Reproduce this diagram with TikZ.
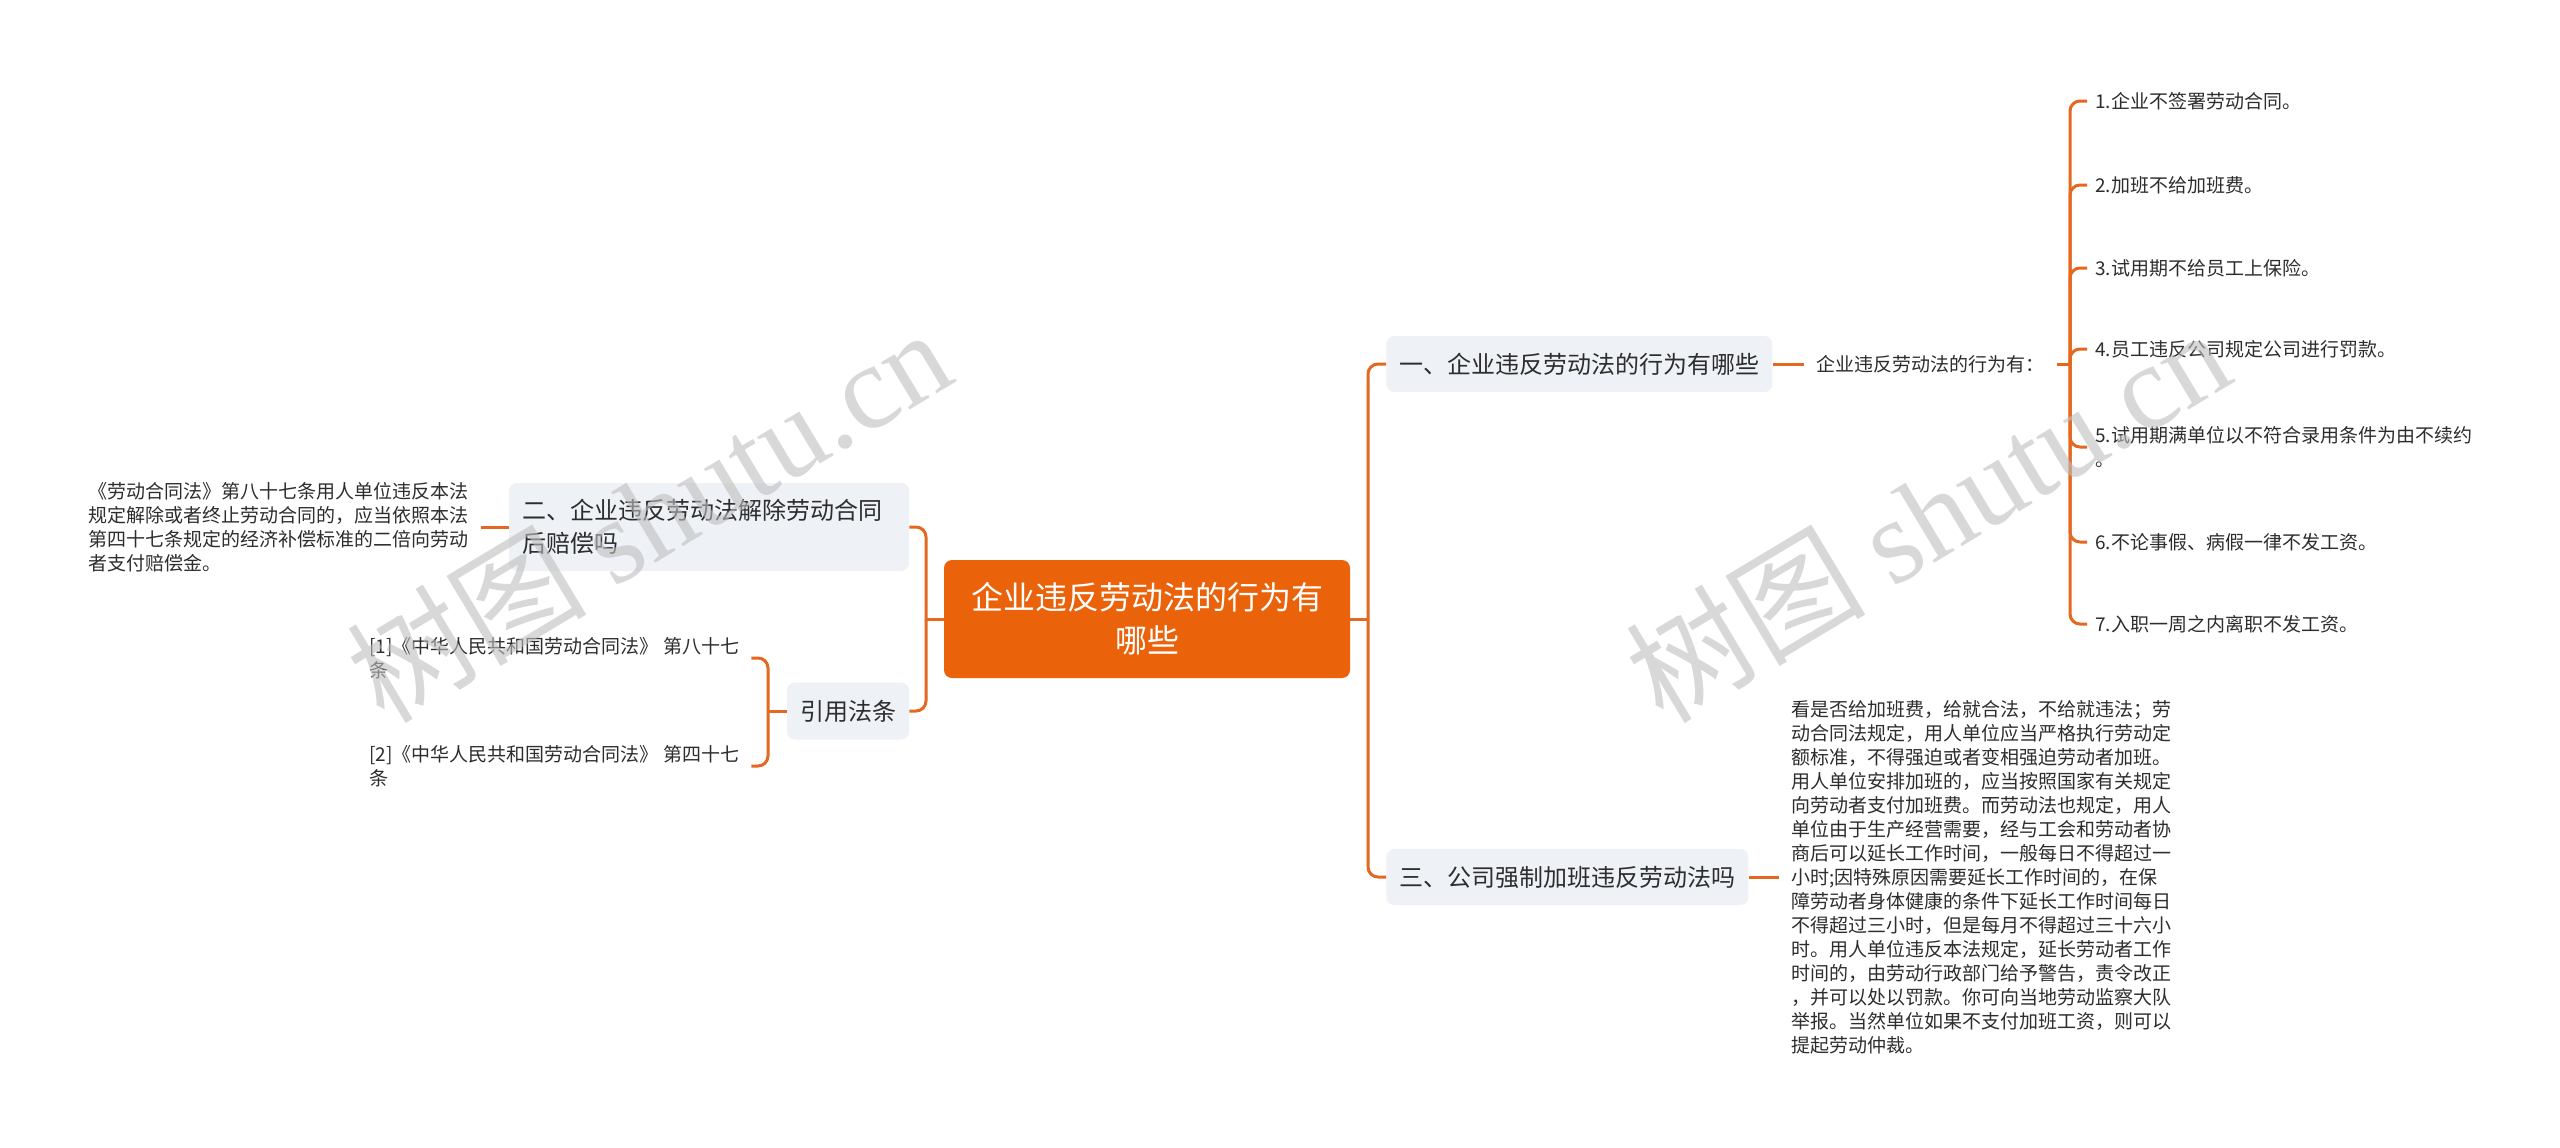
\documentclass[tikz,border=0pt]{standalone}
\usepackage{fontspec}
\setmainfont{Noto Sans CJK SC}
\newfontfamily\wmlatin{Liberation Serif}
\newfontfamily\wmcjk{Noto Sans CJK SC}
\definecolor{org}{RGB}{228,104,32}
\definecolor{rootc}{RGB}{234,98,10}
\definecolor{boxc}{RGB}{238,241,245}
\definecolor{txt}{RGB}{45,45,45}
\definecolor{wm}{RGB}{190,190,190}
\begin{document}
\begin{tikzpicture}[x=0.5pt,y=-0.5pt,
  conn/.style={draw=org,line width=1.5pt,rounded corners=5pt},
  rootbox/.style={fill=rootc,rounded corners=4pt,text=white,font=\fontsize{16}{21.5}\selectfont,align=center,minimum width=203pt,minimum height=59pt,inner sep=0pt},
  topic/.style={fill=boxc,rounded corners=4pt,text=txt,font=\fontsize{12}{16.5}\selectfont,align=left,inner xsep=6.5pt,inner ysep=0pt,minimum height=28pt},
  leaf/.style={text=txt,font=\fontsize{9.5}{12}\selectfont,align=left,inner xsep=6pt,inner ysep=2pt},
  itemleaf/.style={leaf,inner xsep=4pt},
  wmark/.style={text=wm,opacity=0.6,font=\fontsize{60}{60}\selectfont,rotate=31,inner sep=0pt}]
\fill[white] (0,0) rectangle (2560,1147);
\useasboundingbox (0,0) rectangle (2560,1147);

% root
\node[rootbox] (root) at (1147,619) {企业违反劳动法的行为有\\哪些};

% left side
\node[topic, minimum width=200pt, minimum height=44pt, text width=187pt] (b2) at (709,527) {二、企业违反劳动法解除劳动合同\\后赔偿吗};
\node[topic, minimum width=59.5pt, minimum height=28.5pt, align=center] (cite) at (848,711) {引用法条};
\node[leaf, anchor=east] (l2) at (481,527) {《劳动合同法》第八十七条用人单位违反本法\\规定解除或者终止劳动合同的，应当依照本法\\第四十七条规定的经济补偿标准的二倍向劳动\\者支付赔偿金。};
\node[leaf, anchor=west] (r1) at (357,658) {[1]《中华人民共和国劳动合同法》 第八十七\\条};
\node[leaf, anchor=west] (r2) at (357,766) {[2]《中华人民共和国劳动合同法》 第四十七\\条};

% right side
\node[topic, anchor=west] (b1) at (1386,364) {一、企业违反劳动法的行为有哪些};
\node[topic, anchor=west] (b3) at (1386,877) {三、公司强制加班违反劳动法吗};
\node[leaf, anchor=west] (s1) at (1804,364) {企业违反劳动法的行为有：};
\node[itemleaf, anchor=west] (i1) at (2087,101) {1.企业不签署劳动合同。};
\node[itemleaf, anchor=west] (i2) at (2087,185) {2.加班不给加班费。};
\node[itemleaf, anchor=west] (i3) at (2087,268) {3.试用期不给员工上保险。};
\node[itemleaf, anchor=west] (i4) at (2087,349) {4.员工违反公司规定公司进行罚款。};
\node[itemleaf, anchor=west] (i5) at (2087,447) {5.试用期满单位以不符合录用条件为由不续约\\。};
\node[itemleaf, anchor=west] (i6) at (2087,542) {6.不论事假、病假一律不发工资。};
\node[itemleaf, anchor=west] (i7) at (2087,624) {7.入职一周之内离职不发工资。};
\node[leaf, anchor=west] (t3) at (1779,877) {看是否给加班费，给就合法，不给就违法；劳\\动合同法规定，用人单位应当严格执行劳动定\\额标准，不得强迫或者变相强迫劳动者加班。\\用人单位安排加班的，应当按照国家有关规定\\向劳动者支付加班费。而劳动法也规定，用人\\单位由于生产经营需要，经与工会和劳动者协\\商后可以延长工作时间，一般每日不得超过一\\小时;因特殊原因需要延长工作时间的，在保\\障劳动者身体健康的条件下延长工作时间每日\\不得超过三小时，但是每月不得超过三十六小\\时。用人单位违反本法规定，延长劳动者工作\\时间的，由劳动行政部门给予警告，责令改正\\，并可以处以罚款。你可向当地劳动监察大队\\举报。当然单位如果不支付加班工资，则可以\\提起劳动仲裁。};

% junctions
\coordinate (jl) at (926,619);
\coordinate (jr) at (1368,619);
\coordinate (jc) at (768,711);
\coordinate (ji) at (2070,364);

% connectors
\draw[conn] (root.west) -- (jl);
\draw[conn] (jl) |- (b2.east);
\draw[conn] (jl) |- (cite.east);
\draw[conn] (b2.west) -- (l2.east);
\draw[conn] (cite.west) -- (jc);
\draw[conn] (jc) |- (r1.east);
\draw[conn] (jc) |- (r2.east);

\draw[conn] (root.east) -- (jr);
\draw[conn] (jr) |- (b1.west);
\draw[conn] (jr) |- (b3.west);
\draw[conn] (b1.east) -- (s1.west);
\draw[conn] (s1.east) -- (ji);
\foreach \k in {i1,i2,i3,i4,i5,i6,i7} {\draw[conn] (ji) |- (\k.west);}
\draw[conn] (b3.east) -- (t3.west);

% watermarks
\node[wmark] (wm1) at (648,514) {{\wmcjk 树图} {\wmlatin shutu.cn}};
\node[wmark] (wm2) at (1927,514) {{\wmcjk 树图} {\wmlatin shutu.cn}};
\end{tikzpicture}
\end{document}
